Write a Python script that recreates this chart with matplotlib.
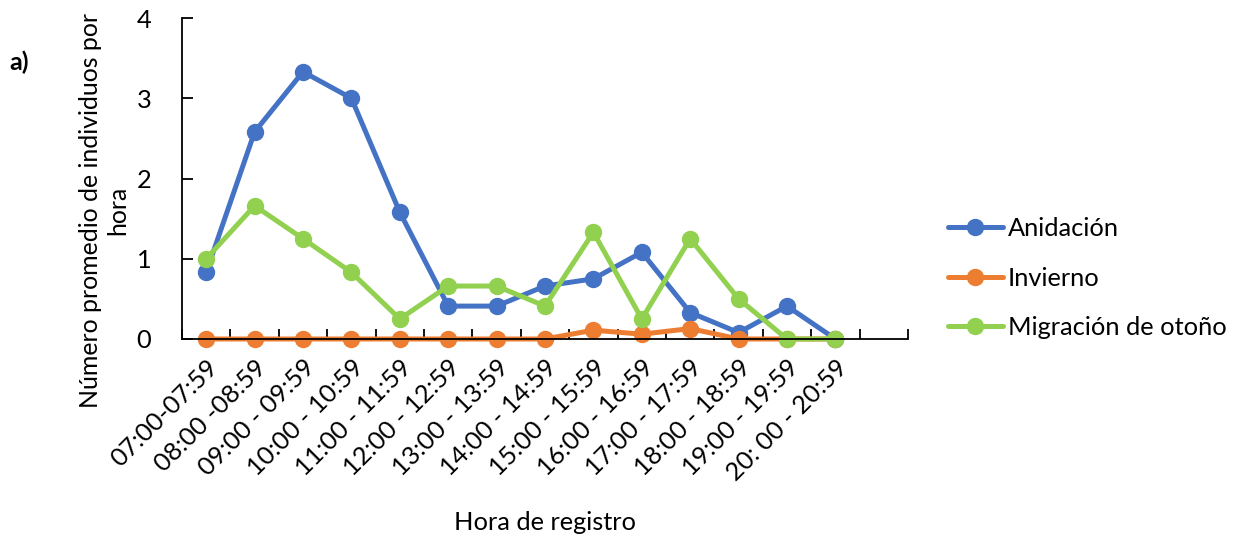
import matplotlib.pyplot as plt
from matplotlib.ticker import FixedLocator

plt.rcParams['font.family'] = ['Lato', 'DejaVu Sans']

horas = ["07:00-07:59", "08:00 -08:59", "09:00 - 09:59", "10:00 - 10:59", "11:00 - 11:59",
         "12:00 - 12:59", "13:00 - 13:59", "14:00 - 14:59", "15:00 - 15:59", "16:00 - 16:59",
         "17:00 - 17:59", "18:00 - 18:59", "19:00 - 19:59", "20: 00 - 20:59"]

anidacion = [0.83, 2.58, 3.33, 3.0, 1.58, 0.41, 0.41, 0.66, 0.75, 1.08, 0.33, 0.08, 0.41, 0.0]
invierno = [0.0, 0.0, 0.0, 0.0, 0.0, 0.0, 0.0, 0.0, 0.11, 0.06, 0.13, 0.0, 0.0, 0.0]
migracion = [1.0, 1.66, 1.25, 0.83, 0.25, 0.66, 0.66, 0.41, 1.33, 0.25, 1.25, 0.5, 0.0, 0.0]

colors = {"Anidación": "#4472C4", "Invierno": "#ED7D31", "Migración de otoño": "#92D050"}
fs = 18.3

fig = plt.figure(figsize=(12.42, 5.36), dpi=100)
ax = fig.add_axes([182 / 1242, 1 - 339 / 536, (908 - 182) / 1242, (339 - 18) / 536])

x = list(range(len(horas)))
for name, vals in [("Anidación", anidacion), ("Invierno", invierno), ("Migración de otoño", migracion)]:
    ax.plot(x, vals, color=colors[name], lw=3.6, marker='o', ms=11.5, label=name,
            solid_capstyle='round', clip_on=False)

ax.set_xlim(-0.5, 14.5)
ax.set_ylim(0, 4)
ax.set_yticks([0, 1, 2, 3, 4])
ax.set_xticks(x)
ax.set_xticklabels(horas, rotation=45, ha='right', va='top', rotation_mode='anchor')
ax.xaxis.set_minor_locator(FixedLocator([i - 0.5 for i in range(16)]))
ax.tick_params(axis='x', which='major', length=0, pad=12, labelsize=fs)
ax.tick_params(axis='x', which='minor', direction='in', length=7, width=1.3)
ax.tick_params(axis='y', direction='in', length=8, width=1.3, labelsize=fs, pad=22)

for s in ['top', 'right']:
    ax.spines[s].set_visible(False)
for s in ['left', 'bottom']:
    ax.spines[s].set_linewidth(1.3)

ax.set_xlabel("Hora de registro", fontsize=fs, labelpad=19)
ax.set_ylabel("Número promedio de individuos por\nhora", fontsize=17.9, linespacing=1.2)
ax.yaxis.set_label_coords((129 - 182) / 726, (339 - 210) / 321)

fig.text(9 / 1242, 1 - 62 / 536, "a)", fontsize=18, fontweight='bold', va='center')

ax.legend(loc='center left', bbox_to_anchor=(948 / 1242, 1 - 278 / 536),
          bbox_transform=fig.transFigure, frameon=False, fontsize=fs,
          borderpad=0, borderaxespad=0,
          handlelength=2.15, labelspacing=1.05, handletextpad=0.2)

fig.savefig("out.png", dpi=100)
